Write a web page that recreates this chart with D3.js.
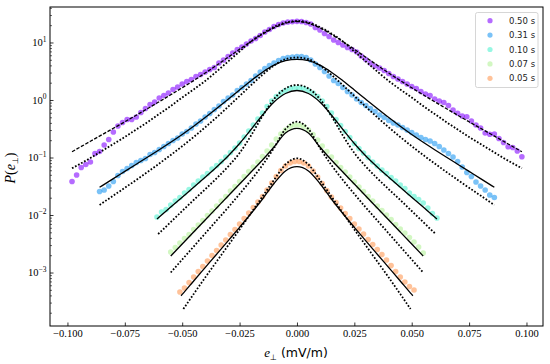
<!DOCTYPE html>
<html><head><meta charset="utf-8">
<script src="https://cdn.jsdelivr.net/npm/d3@7"></script>
<style>body{margin:0;background:#fff;} svg{display:block;}</style>
</head><body><svg id="c" width="550" height="364"></svg>
<script>
// ---------------- data ----------------
const seriesLabels = ["0.50 s", "0.31 s", "0.10 s", "0.07 s", "0.05 s"];
const xTicks = [-0.1, -0.075, -0.05, -0.025, 0, 0.025, 0.05, 0.075, 0.1];
const yTickExp = [-3, -2, -1, 0, 1];

// histogram bin centres (mV/m)
const bins50 = d3.range(-98, 99, 2).map(v => v / 1000);
const bins31 = d3.range(-86, 87, 2).map(v => v / 1000);
const bins10 = d3.range(-61, 62, 2).map(v => v / 1000);
const bins07 = d3.range(-55, 56, 2).map(v => v / 1000);
const bins05 = d3.range(-51, 52, 2).map(v => v / 1000);

// measured P(e) values
const p50 = [0.0383,0.0496,0.0670,0.0755,0.0835,0.1174,0.127,0.165,0.2056,0.278,
 0.353,0.406,0.458,0.458,0.506,0.606,0.712,0.835,0.923,1.083,
 1.198,1.323,1.523,1.683,1.898,2.098,2.273,2.563,2.776,3.069,
 3.391,3.674,4.40,4.96,5.71,6.57,7.55,8.35,9.42,10.62,
 11.74,13.24,15.23,16.83,18.98,20.56,21.83,22.73,23.0,23.3,
 23.1,22.27,20.98,18.24,16.50,14.34,12.72,11.05,10.0,9.05,
 8.19,7.55,6.84,5.83,5.06,4.40,3.90,3.60,3.26,2.89,
 2.563,2.318,2.098,1.898,1.717,1.585,1.405,1.271,1.198,1.041,
 0.961,0.905,0.802,0.670,0.587,0.527,0.512,0.431,0.367,0.326,
 0.267,0.253,0.256,0.214,0.1823,0.154,0.1493,0.1297,0.1033];
const p31 = [0.0256,0.0272,0.0319,0.0383,0.0486,0.0571,0.0644,0.0726,0.0818,0.0887,
 0.0961,0.1128,0.1222,0.1377,0.1553,0.1752,0.1975,0.2183,0.256,0.2833,
 0.326,0.3825,0.431,0.506,0.582,0.684,0.786,0.942,1.083,1.222,
 1.463,1.650,1.898,2.183,2.615,3.069,3.53,3.98,4.40,4.86,
 5.27,5.48,5.60,5.71,5.71,5.48,4.96,4.23,3.674,3.13,
 2.615,2.183,1.936,1.650,1.405,1.222,1.041,0.905,0.802,0.712,
 0.631,0.548,0.496,0.440,0.398,0.367,0.332,0.301,0.272,0.246,
 0.2228,0.2056,0.1936,0.1752,0.1553,0.1350,0.1174,0.1020,0.0852,0.0684,
 0.0548,0.0467,0.0375,0.0319,0.0272,0.0223,0.0202];
const p10 = [0.00923,0.01128,0.01246,0.01492,0.01752,0.0202,0.0241,0.0278,0.0332,0.0390,
 0.0458,0.0527,0.0631,0.0726,0.0852,0.1020,0.1222,0.1463,0.1787,0.2273,
 0.289,0.367,0.467,0.594,0.771,0.961,1.150,1.323,1.463,1.585,1.617,
 1.617,1.585,1.463,1.323,1.150,0.961,0.771,0.594,0.458,0.360,
 0.2833,0.2228,0.1752,0.1434,0.1197,0.1,0.0835,0.0712,0.0606,0.0527,
 0.0449,0.0390,0.0332,0.0289,0.0241,0.0210,0.0186,0.01617,0.01323,0.01062,0.00887];
const p07 = [0.00227,0.00272,0.00326,0.00390,0.00458,0.00560,0.00670,0.00802,0.00980,0.01174,
 0.01434,0.01752,0.0210,0.0262,0.0313,0.0383,0.0467,0.0571,0.0684,0.0835,
 0.1041,0.1297,0.165,0.2098,0.256,0.301,0.346,0.367,
 0.367,0.346,0.301,0.2512,0.2015,0.1585,0.1271,0.1020,0.0818,0.0670,
 0.0559,0.0458,0.0375,0.0307,0.0256,0.0210,0.01752,0.01434,0.01198,0.01,
 0.00835,0.00684,0.00571,0.00486,0.00406,0.00339,0.00278,0.00218];
const p05 = [0.000458,0.000538,0.000670,0.000835,0.001041,0.001271,0.001585,0.001976,0.002413,0.00301,
 0.00367,0.00458,0.00560,0.00697,0.00869,0.01083,0.0135,0.01683,0.0210,0.0272,
 0.0360,0.0467,0.0594,0.0712,0.0802,0.0852,
 0.0852,0.0802,0.0712,0.0583,0.0458,0.0353,0.0267,0.0206,0.0165,0.01323,
 0.01062,0.00869,0.00697,0.00571,0.00467,0.00375,0.00307,0.00251,0.00206,0.00165,
 0.00132,0.001041,0.000835,0.000684,0.000571,0.000496];

// fitted model curves (solid / dashed fit and dotted fit)
const fitX50 = [-0.098,-0.095,-0.09,-0.085,-0.08,-0.075,-0.07,-0.065,-0.06,-0.055,-0.05,-0.045,-0.04,-0.035,-0.03,-0.025,-0.02,-0.015,-0.01,-0.005,0,
 0.005,0.01,0.015,0.02,0.025,0.03,0.035,0.04,0.045,0.05,0.055,0.06,0.065,0.07,0.075,0.08,0.085,0.09,0.095,0.098];
const fit50 = [0.1261,0.1475,0.1913,0.2482,0.322,0.4176,0.544,0.712,0.934,1.231,1.630,2.175,2.937,4.013,5.53,7.62,10.41,13.94,17.94,21.58,23.18,
 21.58,17.94,13.94,10.41,7.62,5.53,4.013,2.937,2.175,1.630,1.231,0.934,0.712,0.544,0.4176,0.322,0.2482,0.1913,0.1475,0.1261];
const dot50 = [0.0649,0.0755,0.098,0.1297,0.1717,0.2273,0.307,0.4145,0.571,0.786,1.105,1.523,2.14,3.13,4.67,6.97,10.41,14.34,18.6,22.27,23.65,
 22.27,18.6,14.34,10.41,6.97,4.67,3.13,2.14,1.523,1.105,0.786,0.571,0.4145,0.307,0.2273,0.1717,0.1297,0.098,0.0755,0.0649];

const fitX31 = [-0.086,-0.085,-0.08,-0.075,-0.07,-0.065,-0.06,-0.055,-0.05,-0.045,-0.04,-0.035,-0.03,-0.025,-0.02,-0.015,-0.01,-0.005,0,
 0.005,0.01,0.015,0.02,0.025,0.03,0.035,0.04,0.045,0.05,0.055,0.06,0.065,0.07,0.075,0.08,0.085,0.086];
const fit31 = [0.0303,0.0321,0.0430,0.0573,0.0764,0.1020,0.1367,0.1845,0.252,0.350,0.494,0.709,1.028,1.498,2.166,3.045,4.03,4.84,5.10,
 4.84,4.03,3.045,2.166,1.498,1.028,0.709,0.494,0.350,0.252,0.1845,0.1367,0.1020,0.0764,0.0573,0.0430,0.0321,0.0303];
const dot31 = [0.01492,0.01591,0.02175,0.0297,0.0408,0.0564,0.0786,0.1105,0.1573,0.2273,0.334,0.500,0.762,1.174,1.809,2.743,3.98,5.125,5.48,
 5.125,3.98,2.743,1.809,1.174,0.762,0.500,0.334,0.2273,0.1573,0.1105,0.0786,0.0564,0.0408,0.0297,0.02175,0.01591,0.01492];

const fitX10 = [-0.061,-0.06,-0.055,-0.05,-0.045,-0.04,-0.035,-0.03,-0.025,-0.02,-0.015,-0.01,-0.005,0,
 0.005,0.01,0.015,0.02,0.025,0.03,0.035,0.04,0.045,0.05,0.055,0.06,0.061];
const fit10 = [0.00852,0.00923,0.01372,0.0204,0.0303,0.0453,0.0684,0.1062,0.1752,0.307,0.548,0.923,1.297,1.463,
 1.297,0.923,0.548,0.307,0.1752,0.1062,0.0684,0.0453,0.0303,0.0204,0.01372,0.00923,0.00852];
const dotX10 = [-0.0605,-0.06,-0.055,-0.05,-0.045,-0.04,-0.035,-0.03,-0.025,-0.02,-0.015,-0.01,-0.005,0,
 0.005,0.01,0.015,0.02,0.025,0.03,0.035,0.04,0.045,0.05,0.055,0.06,0.0605];
const dot10 = [0.00467,0.00486,0.00755,0.01174,0.01824,0.0280,0.0435,0.0697,0.1197,0.2413,0.527,1.041,1.585,1.824,
 1.585,1.041,0.527,0.2413,0.1197,0.0697,0.0435,0.0280,0.01824,0.01174,0.00755,0.00486,0.00467];

const fitX07 = [-0.055,-0.05,-0.045,-0.04,-0.035,-0.03,-0.025,-0.02,-0.015,-0.01,-0.005,0,
 0.005,0.01,0.015,0.02,0.025,0.03,0.035,0.04,0.045,0.05,0.055];
const fit07 = [0.001936,0.00313,0.00506,0.00818,0.01323,0.0214,0.0346,0.0559,0.0905,0.1523,0.267,0.322,
 0.267,0.1523,0.0905,0.0559,0.0346,0.0214,0.01323,0.00818,0.00506,0.00313,0.001936];
const dot07 = [0.001,0.001683,0.00283,0.00477,0.00802,0.0135,0.0232,0.0406,0.0741,0.1463,0.313,0.4195,
 0.313,0.1463,0.0741,0.0406,0.0232,0.0135,0.00802,0.00477,0.00283,0.001683,0.001];

const fitX05 = [-0.0505,-0.05,-0.045,-0.04,-0.035,-0.03,-0.025,-0.02,-0.015,-0.01,-0.005,0,
 0.005,0.01,0.015,0.02,0.025,0.03,0.035,0.04,0.045,0.05,0.0505];
const fit05 = [0.000395,0.000416,0.000712,0.001217,0.00208,0.00356,0.00611,0.01062,0.01898,0.0353,0.0583,0.0692,
 0.0583,0.0353,0.01898,0.01062,0.00611,0.00356,0.00208,0.001217,0.000712,0.000416,0.000395];
const dotX05 = [-0.0495,-0.045,-0.04,-0.035,-0.03,-0.025,-0.02,-0.015,-0.01,-0.005,0,
 0.005,0.01,0.015,0.02,0.025,0.03,0.035,0.04,0.045,0.0495];
const dot05 = [0.000232,0.000423,0.000818,0.001553,0.00295,0.00560,0.01083,0.0210,0.0406,0.0755,0.0969,
 0.0755,0.0406,0.0210,0.01083,0.00560,0.00295,0.001553,0.000818,0.000423,0.000232];

// ---------------- styles ----------------
const colors = ["#8000ff", "#1a96f2", "#4cf2ce", "#b2f296", "#ff964f"];
const fitDash = ["3.5,1.6", null, null, null, null];

const series = [
  {bins: bins50, p: p50, fx: fitX50, f: fit50, dx: fitX50, d: dot50},
  {bins: bins31, p: p31, fx: fitX31, f: fit31, dx: fitX31, d: dot31},
  {bins: bins10, p: p10, fx: fitX10, f: fit10, dx: dotX10, d: dot10},
  {bins: bins07, p: p07, fx: fitX07, f: fit07, dx: fitX07, d: dot07},
  {bins: bins05, p: p05, fx: fitX05, f: fit05, dx: dotX05, d: dot05}
];

// ---------------- drawing ----------------
const svg = d3.select("#c");
const L = 50, R = 543, T = 7, B = 326;
const x = d3.scaleLinear().domain([-0.1076, 0.1072]).range([L, R]);
const y = d3.scaleLog().domain([1.175e-4, 41.4]).range([B, T]);

svg.append("rect").attr("width", 550).attr("height", 364).attr("fill", "#fff");

// scatter
series.forEach((s, i) => {
  svg.append("g").selectAll("circle")
    .data(s.bins.map((b, j) => [b, s.p[j]]))
    .join("circle")
    .attr("cx", d => x(d[0])).attr("cy", d => y(d[1])).attr("r", 2.8)
    .attr("fill", colors[i]).attr("fill-opacity", 0.58);
});

const line = d3.line().x(d => x(d[0])).y(d => y(d[1])).curve(d3.curveMonotoneX);
series.forEach((s, i) => {
  svg.append("path")
    .attr("d", line(s.fx.map((v, j) => [v, s.f[j]])))
    .attr("fill", "none").attr("stroke", "#000").attr("stroke-width", 1.3)
    .attr("stroke-dasharray", fitDash[i]);
  svg.append("path")
    .attr("d", line(s.dx.map((v, j) => [v, s.d[j]])))
    .attr("fill", "none").attr("stroke", "#000").attr("stroke-width", 1.8)
    .attr("stroke-dasharray", "1.7,1.75");
});

// axes
const serif = "'Liberation Serif', 'DejaVu Serif', serif";
const gx = svg.append("g").attr("transform", `translate(0,${B})`)
  .call(d3.axisBottom(x).tickValues(xTicks).tickSize(-3.5).tickPadding(3.2)
    .tickFormat(v => (v < 0 ? "\u2212" : "") + Math.abs(v).toFixed(3)));
gx.select(".domain").remove();
gx.selectAll("text").attr("font-family", serif).attr("font-size", 10.5).attr("fill", "#000");
gx.selectAll("line").attr("stroke", "#000").attr("stroke-width", 0.8);

const yMinor = [];
for (let k = -4; k <= 1; k++) for (let m = 2; m <= 9; m++) {
  const v = m * Math.pow(10, k);
  if (v > y.domain()[0] && v < y.domain()[1]) yMinor.push(v);
}
const gym = svg.append("g").attr("transform", `translate(${L},0)`)
  .call(d3.axisLeft(y).tickValues(yMinor).tickSize(-2).tickFormat(""));
gym.select(".domain").remove();
gym.selectAll("line").attr("stroke", "#000").attr("stroke-width", 0.6);

const yMajor = yTickExp.map(k => Math.pow(10, k));
const gy = svg.append("g").attr("transform", `translate(${L},0)`)
  .call(d3.axisLeft(y).tickValues(yMajor).tickSize(-3.5).tickFormat(""));
gy.select(".domain").remove();
gy.selectAll("line").attr("stroke", "#000").attr("stroke-width", 0.8);

yTickExp.forEach(k => {
  const t = svg.append("text").attr("x", 46.5).attr("y", y(Math.pow(10, k)) + 3.6)
    .attr("text-anchor", "end").attr("font-family", serif).attr("font-size", 10.5).attr("fill", "#000");
  t.append("tspan").text("10");
  t.append("tspan").attr("dy", -4.2).attr("font-size", 7.5).text(k < 0 ? "\u2212" + Math.abs(k) : String(k));
});

// frame
svg.append("rect").attr("x", L).attr("y", T).attr("width", R - L).attr("height", B - T)
  .attr("fill", "none").attr("stroke", "#000").attr("stroke-width", 1);

// axis labels
const xl = svg.append("text").attr("x", 296).attr("y", 357).attr("text-anchor", "middle")
  .attr("font-size", 13).attr("fill", "#000");
xl.append("tspan").attr("font-family", serif).attr("font-style", "italic").text("e");
xl.append("tspan").attr("font-family", "'DejaVu Sans'").attr("font-size", 8).attr("dy", 2.5).text("\u22A5");
xl.append("tspan").attr("font-family", "'DejaVu Sans'").attr("font-size", 12.5).attr("dy", -2.5).text(" (mV/m)");

const yl = svg.append("text").attr("transform", "translate(15,168) rotate(-90)")
  .attr("text-anchor", "middle").attr("font-family", serif).attr("font-size", 14).attr("fill", "#000");
yl.append("tspan").attr("font-style", "italic").text("P");
yl.append("tspan").text("(");
yl.append("tspan").attr("font-style", "italic").text("e");
yl.append("tspan").attr("font-family", "'DejaVu Sans'").attr("font-size", 8).attr("dy", 2.5).text("\u22A5");
yl.append("tspan").attr("dy", -2.5).text(")");

// legend
const lg = svg.append("g");
lg.append("rect").attr("x", 475.5).attr("y", 12.5).attr("width", 62.5).attr("height", 75).attr("rx", 2)
  .attr("fill", "#fff").attr("fill-opacity", 0.85).attr("stroke", "#cccccc").attr("stroke-width", 0.8);
seriesLabels.forEach((lab, i) => {
  const cy = 20.7 + 14.4 * i;
  lg.append("circle").attr("cx", 490).attr("cy", cy).attr("r", 2.6)
    .attr("fill", colors[i]).attr("fill-opacity", 0.58);
  lg.append("text").attr("x", 509).attr("y", cy + 3).attr("font-family", "'DejaVu Sans', sans-serif")
    .attr("font-size", 8.5).attr("fill", "#222").text(lab);
});
</script></body></html>
